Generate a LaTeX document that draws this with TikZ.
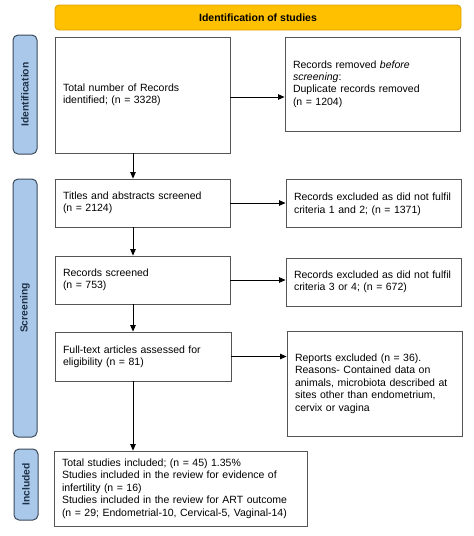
\documentclass[tikz,border=0pt]{standalone}
\usepackage{fontspec}
\setmainfont{Liberation Sans}
\usetikzlibrary{arrows.meta}
\definecolor{bannerfill}{HTML}{FFC000}
\definecolor{bannerline}{HTML}{E0A200}
\definecolor{phasefill}{HTML}{A9C8EA}
\definecolor{phaseline}{HTML}{3B4A5A}
\definecolor{phasetext}{HTML}{1F3147}
\definecolor{boxline}{HTML}{555555}
\tikzset{
  box/.style={draw=boxline, line width=0.9pt, rectangle, align=left,
    inner xsep=8pt, font=\fontsize{10.5}{12.4}\selectfont},
  banner/.style={draw=bannerline, fill=bannerfill, rounded corners=4pt,
    line width=0.9pt, font=\fontsize{10.5}{12}\selectfont\bfseries},
  phase/.style={draw=phaseline, fill=phasefill, rounded corners=5pt, rotate=90,
    line width=1pt, text=phasetext, font=\fontsize{10.3}{12}\selectfont\bfseries},
  arr/.style={-{Triangle[length=6.5pt,width=5.5pt]}, line width=0.8pt}
}
\begin{document}
\begin{tikzpicture}[x=1pt, y=-1pt]
        \useasboundingbox (0,0) rectangle (474,536);

        % Kopf
        \node[banner, minimum width=406pt, minimum height=25pt] (head) at (258, 17.5) {Identification of studies};

        % Phasen links
        \node[phase, minimum width=119pt, minimum height=24pt] (identphase) at (25, 94.5) {Identification};
        \node[phase, minimum width=258pt, minimum height=24pt] (screenphase) at (25, 308) {Screening};
        \node[phase, minimum width=71pt, minimum height=24pt] (inclphase) at (26, 484.5) {Included};

        % Hauptspalte
        \node[box, minimum width=175pt, minimum height=116pt, text width=159pt] (total) at (142.5, 95)
          {Total number of Records\\identified; (n = 3328)};
        \node[box, minimum width=175pt, minimum height=48pt, text width=159pt] (titles) at (142.5, 203)
          {Titles and abstracts screened\\(n = 2124)};
        \node[box, minimum width=175pt, minimum height=48pt, text width=159pt] (screened) at (142.5, 280)
          {Records screened\\(n = 753)};
        \node[box, minimum width=176pt, minimum height=49pt, text width=160pt] (fulltext) at (143, 356.5)
          {Full-text articles assessed for\\eligibility (n = 81)};
        \node[box, minimum width=253pt, minimum height=75pt, text width=237pt] (included) at (180.5, 488.5)
          {Total studies included; (n = 45) 1.35\%\\
           Studies included in the review for evidence of\\
           infertility (n = 16)\\
           Studies included in the review for ART outcome\\
           (n = 29; Endometrial-10, Cervical-5, Vaginal-14)};

        % rechte Spalte
        \node[box, minimum width=175pt, minimum height=94pt, text width=159pt] (removed) at (372.5, 84)
          {Records removed \emph{before}\\\emph{screening}:\\Duplicate records removed\\(n = 1204)};
        \node[box, minimum width=175pt, minimum height=48pt, text width=159pt, text depth=12pt] (excl12) at (373.5, 203)
          {Records excluded as did not fulfil\\criteria 1 and 2; (n = 1371)};
        \node[box, minimum width=175pt, minimum height=48pt, text width=159pt] (excl34) at (373.5, 282)
          {Records excluded as did not fulfil\\criteria 3 or 4; (n = 672)};
        \node[box, minimum width=175pt, minimum height=105pt, text width=159pt] (reports) at (374.5, 383.5)
          {Reports excluded (n = 36).\\
           Reasons- Contained data on\\
           animals, microbiota described at\\
           sites other than endometrium,\\
           cervix or vagina};

        % Pfeile
        \draw[arr] ([yshift=-2pt]total.east) -- ([yshift=-2pt]total.east -| removed.west);
        \draw[arr] (titles) -- (excl12);
        \draw[arr] (screened.east) -- (screened.east -| excl34.west);
        \draw[arr] (fulltext.east) -- (fulltext.east -| reports.west);
        \draw[arr] ([xshift=-9.5pt]total.south) -- ([xshift=-9.5pt]total.south |- titles.north);
        \draw[arr] ([xshift=-9.5pt]titles.south) -- ([xshift=-9.5pt]titles.south |- screened.north);
        \draw[arr] ([xshift=-9.5pt]screened.south) -- ([xshift=-9.5pt]screened.south |- fulltext.north);
        \draw[arr] ([xshift=-10pt]fulltext.south) -- ([xshift=-10pt]fulltext.south |- included.north);
\end{tikzpicture}
\end{document}
